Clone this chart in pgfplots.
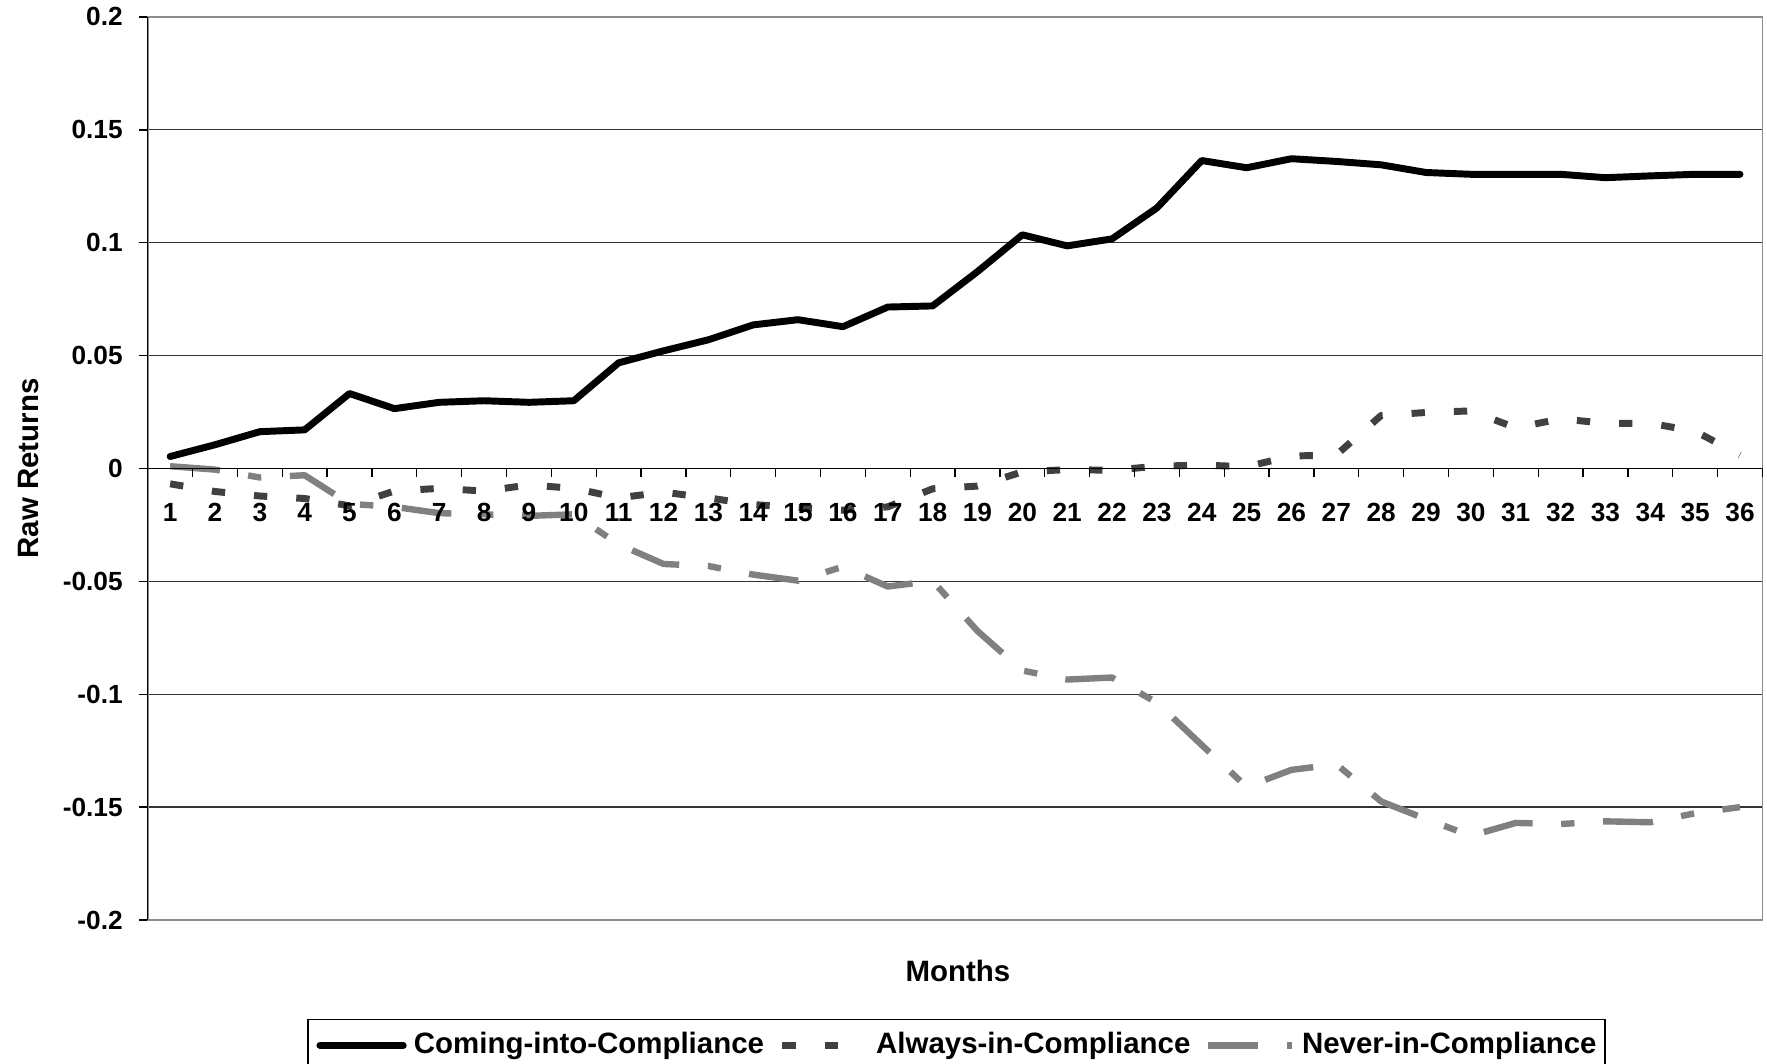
\documentclass[border=0pt]{standalone}
\usepackage{fontspec}
\setmainfont{Liberation Sans}
\usepackage{pgfplots}
\pgfplotsset{compat=1.18}
\usepackage{pgfplotstable}

\pgfplotstableread{
m coming always never
1 0.0053 -0.0068 0.0010
2 0.0105 -0.0102 -0.0005
3 0.0163 -0.0122 -0.0040
4 0.0171 -0.0133 -0.0030
5 0.0332 -0.0165 -0.0157
6 0.0265 -0.0100 -0.0170
7 0.0293 -0.0088 -0.0198
8 0.0300 -0.0100 -0.0203
9 0.0293 -0.0073 -0.0210
10 0.0300 -0.0088 -0.0203
11 0.0468 -0.0130 -0.0336
12 0.0521 -0.0105 -0.0423
13 0.0570 -0.0130 -0.0432
14 0.0636 -0.0160 -0.0470
15 0.0659 -0.0172 -0.0497
16 0.0628 -0.0185 -0.0435
17 0.0715 -0.0170 -0.0523
18 0.0720 -0.0090 -0.0498
19 0.0872 -0.0078 -0.0720
20 0.1035 -0.0015 -0.0895
21 0.0986 -0.0005 -0.0935
22 0.1017 -0.0008 -0.0926
23 0.1154 0.0010 -0.1037
24 0.1364 0.0015 -0.1225
25 0.1332 0.0008 -0.1410
26 0.1372 0.0055 -0.1335
27 0.1360 0.0060 -0.1310
28 0.1345 0.0235 -0.1475
29 0.1311 0.0248 -0.1553
30 0.1303 0.0255 -0.1627
31 0.1303 0.0180 -0.1570
32 0.1303 0.0220 -0.1575
33 0.1288 0.0200 -0.1563
34 0.1296 0.0200 -0.1567
35 0.1303 0.0165 -0.1527
36 0.1303 0.0060 -0.1500
}\datatable

\newcommand{\tickfont}{\fontsize{9.45}{11}\selectfont\bfseries}
\newcommand{\labfont}{\fontsize{10.6}{12.5}\selectfont\bfseries}
\definecolor{alwaysc}{HTML}{404040}
\definecolor{neverc}{HTML}{808080}

\begin{document}
\begin{tikzpicture}
\useasboundingbox (0,0) rectangle (636.12pt,382.68pt);
\begin{axis}[
  at={(53.17pt,51.48pt)}, anchor=south west,
  scale only axis, width=581.3pt, height=325.1pt,
  xmin=0.5, xmax=36.5, ymin=-0.2, ymax=0.2,
  enlargelimits=false,
  xtick=\empty,
  ytick={-0.2,-0.15,-0.1,-0.05,0,0.05,0.1,0.15,0.2},
  yticklabels={-0.2,-0.15,-0.1,-0.05,0,0.05,0.1,0.15,0.2},
  ytick pos=left, tick align=outside, major tick length=3.1pt,
  tick style={black, line width=0.5pt},
  ymajorgrids, major grid style={black!80, line width=0.45pt},
  axis line style={draw=black!45, line width=0.6pt},
  yticklabel style={font=\tickfont, inner sep=0pt, anchor=east, xshift=-5.7pt},
  ylabel={Raw Returns},
  ylabel style={font=\labfont, at={(axis description cs:-0.0741,0.5)}, anchor=center},
  xlabel={Months},
  xlabel style={font=\labfont, at={(axis description cs:0.5018,-0.0559)}, anchor=center},
  legend columns=3,
  legend image code/.code={\draw[#1] (0pt,0pt) -- (30pt,0pt); \path[draw=none] (0pt,-4pt) -- (30pt,-4pt);},
  legend style={at={(axis description cs:0.5009,-0.1096)}, anchor=north,
    font=\labfont, draw=black, line width=0.5pt,
    inner xsep=3.0pt, inner ysep=4.65pt,
    nodes={inner sep=0pt},
    /tikz/every odd column/.append style={column sep=2.6pt},
    /tikz/every even column/.append style={column sep=5.3pt}},
]
\addplot[black, line width=2.5pt, line join=round, line cap=round] table[x=m,y=coming]{\datatable};
\addlegendentry{Coming-into-Compliance}
\addplot[alwaysc, line width=2.5pt, line join=round, dash pattern=on 4.8pt off 10.45pt] table[x=m,y=always]{\datatable};
\addlegendentry{Always-in-Compliance}
\addplot[neverc, line width=2.3pt, line join=round, dash pattern=on 18pt off 10.3pt on 4.8pt off 10.3pt] table[x=m,y=never]{\datatable};
\addlegendentry{Never-in-Compliance}
\end{axis}
\begin{axis}[
  at={(53.17pt,51.48pt)}, anchor=south west,
  scale only axis, width=581.3pt, height=325.1pt,
  xmin=0.5, xmax=36.5, ymin=-0.2, ymax=0.2,
  enlargelimits=false,
  every non boxed x axis/.style={}, every non boxed y axis/.style={},
  axis x line*=middle, axis y line*=left,
  axis line style={black, line width=0.5pt, -},
  hide obscured x ticks=false,
  ytick=\empty,
  xtick={0.5,1.5,...,36.5},
  xticklabels={1,2,3,4,5,6,7,8,9,10,11,12,13,14,15,16,17,18,19,20,21,22,23,24,25,26,27,28,29,30,31,32,33,34,35,36,{}},
  major tick length=3pt, tick align=outside,
  tick style={black, line width=0.45pt},
  xticklabel style={font=\tickfont, inner sep=0pt, anchor=north, xshift=8.074pt, yshift=-9.3pt},
]
\end{axis}
\end{tikzpicture}
\end{document}
